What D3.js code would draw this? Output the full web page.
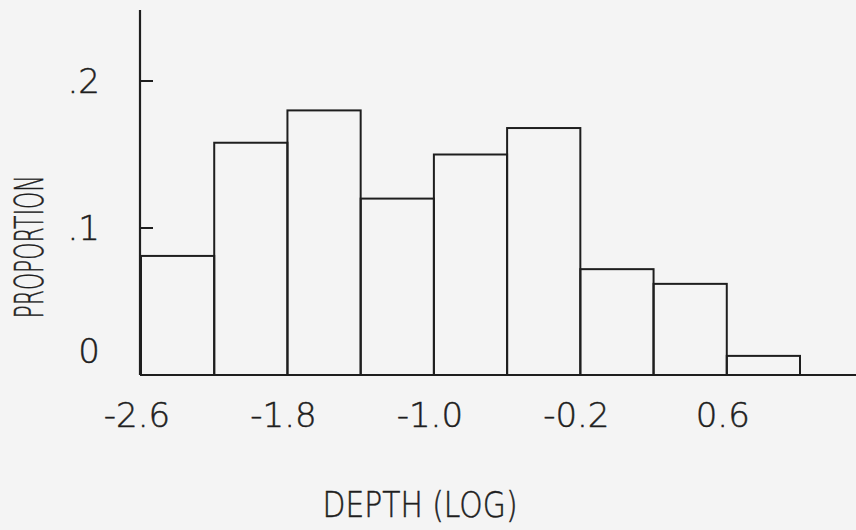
<!DOCTYPE html>
<html>
<head>
<meta charset="utf-8">
<script src="https://cdn.jsdelivr.net/npm/d3@7"></script>
<style>
  html, body { margin: 0; padding: 0; background: #f4f4f4; }
  svg { display: block; }
  text { font-family: "DejaVu Sans", sans-serif; font-weight: 200; fill: #1e1e1e; stroke: #1e1e1e; stroke-width: 0.5; }
</style>
</head>
<body>
<svg id="chart" width="856" height="530"></svg>
<script>
// ---- data ----
const binEdges = [-2.6, -2.2, -1.8, -1.4, -1.0, -0.6, -0.2, 0.2, 0.6, 1.0];
const proportions = [0.081, 0.158, 0.180, 0.120, 0.150, 0.168, 0.072, 0.062, 0.013];
const xTickValues = [-2.6, -1.8, -1.0, -0.2, 0.6];
const xTickLabels = ["-2.6", "-1.8", "-1.0", "-0.2", "0.6"];
const yTickValues = [0, 0.1, 0.2];
const yTickLabels = ["0", ".1", ".2"];
const xTitle = "DEPTH (LOG)";
const yTitle = "PROPORTION";

// ---- layout ----
const svg = d3.select("#chart");
const ink = "#1e1e1e";
const x = d3.scaleLinear().domain([-2.6, 1.0]).range([141, 800]);
const y = d3.scaleLinear().domain([0, 0.2]).range([375, 81]);
const xAxisEnd = 856, yAxisTop = 10;

const bins = proportions.map((p, i) => ({x0: binEdges[i], x1: binEdges[i + 1], p}));

// bars
svg.append("g").selectAll("rect").data(bins).join("rect")
  .attr("x", d => x(d.x0))
  .attr("y", d => y(d.p))
  .attr("width", d => x(d.x1) - x(d.x0))
  .attr("height", d => y(0) - y(d.p))
  .attr("fill", "none")
  .attr("stroke", ink)
  .attr("stroke-width", 2);

// axes lines
svg.append("line")
  .attr("x1", x(-2.6) - 1).attr("x2", x(-2.6) - 1)
  .attr("y1", yAxisTop).attr("y2", y(0))
  .attr("stroke", ink).attr("stroke-width", 2.2);
svg.append("line")
  .attr("x1", x(-2.6) - 1).attr("x2", xAxisEnd)
  .attr("y1", y(0)).attr("y2", y(0))
  .attr("stroke", ink).attr("stroke-width", 2.2);

// y ticks (pointing inward)
svg.append("g").selectAll("line").data(yTickValues.filter(v => v > 0)).join("line")
  .attr("x1", x(-2.6) - 1).attr("x2", x(-2.6) + 12)
  .attr("y1", d => y(d)).attr("y2", d => y(d))
  .attr("stroke", ink).attr("stroke-width", 2);

// y tick labels
svg.append("g").selectAll("text").data(yTickValues).join("text")
  .attr("x", 100)
  .attr("y", d => Math.min(y(d), y(0) - 24))
  .attr("dy", "0.36em")
  .attr("text-anchor", "end")
  .attr("font-size", 34)
  .text((d, i) => yTickLabels[i]);

// x tick labels
svg.append("g").selectAll("text").data(xTickValues).join("text")
  .attr("x", d => x(d) - 4)
  .attr("y", 427)
  .attr("text-anchor", "middle")
  .attr("font-size", 34)
  .text((d, i) => xTickLabels[i]);

// titles
svg.append("text")
  .attr("x", 420).attr("y", 517)
  .attr("text-anchor", "middle")
  .attr("font-size", 35)
  .attr("textLength", 195)
  .attr("lengthAdjust", "spacingAndGlyphs")
  .text(xTitle);

svg.append("text")
  .attr("transform", "translate(43,247) rotate(-90)")
  .attr("text-anchor", "middle")
  .attr("font-size", 39)
  .attr("textLength", 143)
  .attr("lengthAdjust", "spacingAndGlyphs")
  .text(yTitle);
</script>
</body>
</html>
